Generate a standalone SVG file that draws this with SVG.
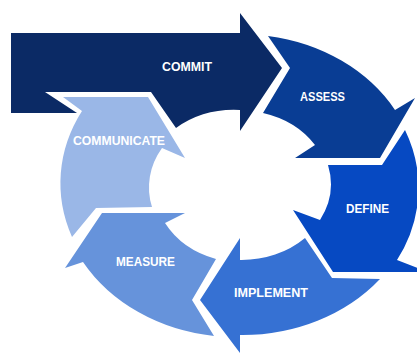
<svg xmlns="http://www.w3.org/2000/svg" width="417" height="356" viewBox="0 0 417 356">
<style>
.lbl{font-family:"Liberation Sans",Arial,sans-serif;font-weight:bold;font-size:13.5px;fill:#ffffff}
</style>
<rect width="417" height="356" fill="#ffffff"/>
<g id="connectors"/>
<g id="commit">
<path fill="#0b2a65" d="M11 33 H240 V13 L282 68 L240 131 V110 A90 76 0 0 0 176 128 L151 92 H45 L77 113 H11 Z"/>
<text class="lbl" x="162" y="70.5" textLength="50" lengthAdjust="spacingAndGlyphs">COMMIT</text>
</g>
<g id="assess">
<path fill="#093d94" d="M268 36 A177 151 0 0 1 395 110 L415 98 L380 158 L295 158 L315 145 A90 76 0 0 0 263 113 L290 68 Z"/>
<text class="lbl" x="300" y="101" textLength="45" lengthAdjust="spacingAndGlyphs">ASSESS</text>
</g>
<g id="define">
<path fill="#0649c2" d="M328 165 L382 165 L405 130 A177 151 0 0 1 397 260 L428 272 L333 272 L293 210 L320 220 A90 76 0 0 0 328 165 Z"/>
<text class="lbl" x="346" y="213" textLength="43" lengthAdjust="spacingAndGlyphs">DEFINE</text>
</g>
<g id="implement">
<path fill="#3671d3" d="M305 238 L332 278 L380 279 A177 151 0 0 1 240 335 V353 L200 300 L240 238 V260 A90 76 0 0 0 305 238 Z"/>
<text class="lbl" x="234" y="297" textLength="74" lengthAdjust="spacingAndGlyphs">IMPLEMENT</text>
</g>
<g id="measure">
<path fill="#6693db" d="M216 259 L192 300 L214 336 A177 151 0 0 1 83 262 L65 268 L102 213 L185 213 L165 223 A90 76 0 0 0 216 259 Z"/>
<text class="lbl" x="116" y="266" textLength="59" lengthAdjust="spacingAndGlyphs">MEASURE</text>
</g>
<g id="communicate">
<path fill="#9ab7e7" d="M152 207 L96 208 L72 237 A177 151 0 0 1 82 111 L63 97 L148 97 L185 158 L162 148 A90 76 0 0 0 152 207 Z"/>
<text class="lbl" x="73" y="145" textLength="92" lengthAdjust="spacingAndGlyphs">COMMUNICATE</text>
</g>
</svg>
